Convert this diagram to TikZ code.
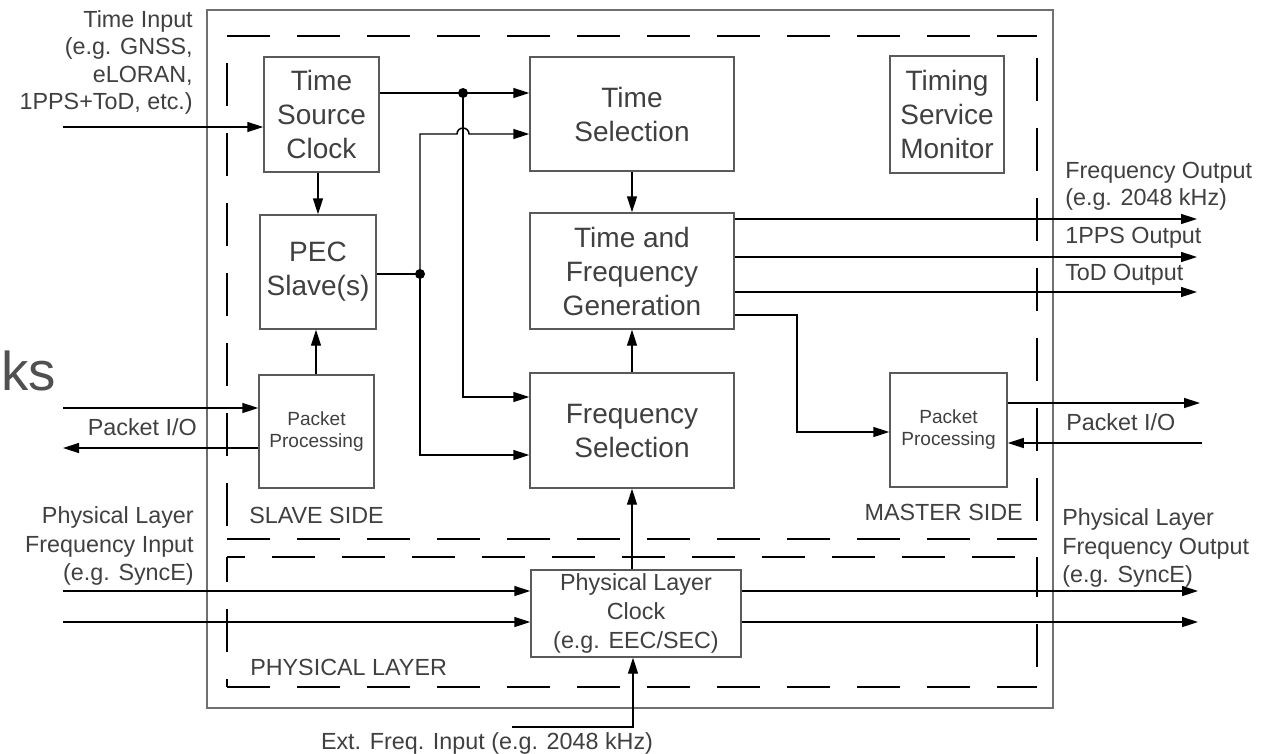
\documentclass[tikz,border=0pt]{standalone}
\usepackage{fontspec}
\setmainfont{Liberation Sans}
\usetikzlibrary{arrows.meta}
\definecolor{txtgray}{HTML}{404040}
\definecolor{boxgray}{HTML}{5A5A5A}
\definecolor{outergray}{HTML}{707070}
\definecolor{ksgray}{HTML}{505050}
\tikzset{
 blk/.style={draw=boxgray, line width=1.1pt, fill=white, inner sep=0pt, align=center, text=txtgray, font=\fontsize{21}{25.5}\selectfont},
 sblk/.style={blk, font=\fontsize{14.3}{16.5}\selectfont},
 mblk/.style={blk, font=\fontsize{17.5}{22}\selectfont},
 lbl/.style={inner sep=0pt, text=txtgray, font=\fontsize{17.5}{20.5}\selectfont},
 arr/.style={draw=black, line width=1.1pt, -{Triangle[length=12pt,width=7.5pt]}},
 ln/.style={draw=black, line width=1.1pt},
 dsh/.style={draw=black, line width=1.6pt, dash pattern=on 32.25pt off 20.25pt},
 jdot/.style={circle, fill=black, inner sep=0pt, minimum size=7.5pt}
}
\begin{document}
\begin{tikzpicture}[x=0.75pt,y=-0.75pt]
\useasboundingbox (0,0) rectangle (1262,753);
\fill[white] (0,0) rectangle (1262,753);

% outer frame
\draw[draw=outergray, line width=1.4pt] (207,10) rectangle (1053,708);

% upper dashed region
\draw[dsh] (227,36) -- (1037,36);
\draw[dsh, dash phase=32.25pt] (227,36) -- (227,539);
\draw[dsh, dash phase=36pt] (1037,36) -- (1037,539);
\draw[dsh] (227,539) -- (1037,539);
% physical layer dashed region
\draw[dsh, dash phase=18.75pt] (227,557) -- (1037,557);
\draw[dsh, dash phase=13.5pt] (227,557) -- (227,687);
\draw[dsh, dash phase=2.25pt] (1037,557) -- (1037,687);
\draw[dsh] (227,687) -- (1037,687);

% blocks
\node[blk, minimum width=86.25pt, minimum height=86.25pt] (tsc) at (321.5,114.5) {Time\\Source\\Clock};
\node[blk, minimum width=87pt, minimum height=85.5pt] (pec) at (318,272) {PEC\\Slave(s)};
\node[sblk, minimum width=86.25pt, minimum height=84.75pt] (spp) at (316.5,431.5) {Packet\\Processing};
\node[blk, minimum width=153pt, minimum height=85.5pt] (tsel) at (632,114) {Time\\Selection};
\node[blk, minimum width=153pt, minimum height=87pt] (tfg) at (632,271) {Time and\\Frequency\\Generation};
\node[blk, minimum width=153pt, minimum height=86.25pt] (fsel) at (632,430.5) {Frequency\\Selection};
\node[blk, minimum width=85.5pt, minimum height=87.75pt] (tsm) at (947,114.5) {Timing\\Service\\Monitor};
\node[sblk, minimum width=87.75pt, minimum height=85.5pt] (mpp) at (948.5,430) {Packet\\Processing};
\node[mblk, minimum width=157.5pt, minimum height=65.25pt] (plc) at (636,613.5) {Physical Layer\\Clock\\(e.g. EEC/SEC)};

% labels
\node[lbl, anchor=east, align=right] (tin) at (193,62.5) {Time Input\\(e.g. GNSS,\\eLORAN,\\1PPS+ToD, etc.)};
\node[lbl, anchor=east] (pio1) at (197,427) {Packet I/O};
\node[lbl, anchor=west] (slv) at (249,515) {SLAVE SIDE};
\node[lbl, anchor=east] (mst) at (1023,512) {MASTER SIDE};
\node[lbl, anchor=west] (pio2) at (1066,422) {Packet I/O};
\node[lbl, anchor=east, align=right, font=\fontsize{17.5}{21.5}\selectfont] (pin) at (194,546) {Physical Layer\\Frequency Input\\(e.g. SyncE)};
\node[lbl, anchor=west, align=left, font=\fontsize{17.5}{21.5}\selectfont] (pout) at (1062,548) {Physical Layer\\Frequency Output\\(e.g. SyncE)};
\node[lbl, anchor=west, align=left] (fout) at (1065,186.5) {Frequency Output\\(e.g. 2048 kHz)};
\node[lbl, anchor=west] (ppso) at (1065,238) {1PPS Output};
\node[lbl, anchor=west] (todo) at (1065,275) {ToD Output};
\node[lbl, anchor=west] (phl) at (250,667) {PHYSICAL LAYER};
\node[lbl] (ext) at (487,743) {Ext. Freq. Input (e.g. 2048 kHz)};
\node[anchor=base west, inner sep=0pt, text=ksgray, font=\fontsize{41}{41}\selectfont] (ks) at (1,390) {ks};

% coordinates
\coordinate (ti) at (63,127);
\coordinate (j1) at (463,93);
\coordinate (f1) at (463,397);
\coordinate (j2) at (420,274);
\coordinate (t2) at (420,134);
\coordinate (f2) at (420,455);
\coordinate (ax1) at (318,0);
\coordinate (ax2) at (316,0);
\coordinate (ax3) at (632,0);
\coordinate (o1) at (1197,219);
\coordinate (o2) at (1197,257);
\coordinate (o3) at (1197,292);
\coordinate (g1) at (797,315);
\coordinate (g2) at (797,432);
\coordinate (mo) at (1200,403);
\coordinate (mi) at (1202,443);
\coordinate (si) at (63,408);
\coordinate (so) at (63,448);
\coordinate (pi1) at (63,591);
\coordinate (pi2) at (63,622);
\coordinate (po1) at (1198,591);
\coordinate (po2) at (1198,622);
\coordinate (e1) at (512,727);
\coordinate (e2) at (633,727);

% connectors
\draw[arr] (ti) -- (ti -| tsc.west);
\draw[arr] (tsc.east |- j1) -- (j1 -| tsel.west);
\draw[arr] (j1) -- (f1) -- (f1 -| fsel.west);
\draw[ln] (pec.east |- j2) -- (j2);
\draw[arr] (j2) -- (t2) -- (457,134) arc[start angle=180, end angle=360, radius=6] -- (t2 -| tsel.west);
\draw[arr] (j2) -- (f2) -- (f2 -| fsel.west);
\node[jdot] (d1) at (j1) {};
\node[jdot] (d2) at (j2) {};
\draw[arr] (ax1 |- tsc.south) -- (ax1 |- pec.north);
\draw[arr] (ax2 |- spp.north) -- (ax2 |- pec.south);
\draw[arr] (ax3 |- tsel.south) -- (ax3 |- tfg.north);
\draw[arr] (ax3 |- fsel.north) -- (ax3 |- tfg.south);
\draw[arr] (ax3 |- plc.north) -- (ax3 |- fsel.south);
\draw[arr] (e1) -- (e2) -- (e2 |- plc.south);
\draw[arr] (tfg.east |- o1) -- (o1);
\draw[arr] (tfg.east |- o2) -- (o2);
\draw[arr] (tfg.east |- o3) -- (o3);
\draw[arr] (tfg.east |- g1) -- (g1) -- (g2) -- (g2 -| mpp.west);
\draw[arr] (mpp.east |- mo) -- (mo);
\draw[arr] (mi) -- (mi -| mpp.east);
\draw[arr] (si) -- (si -| spp.west);
\draw[arr] (spp.west |- so) -- (so);
\draw[arr] (pi1) -- (pi1 -| plc.west);
\draw[arr] (pi2) -- (pi2 -| plc.west);
\draw[arr] (plc.east |- po1) -- (po1);
\draw[arr] (plc.east |- po2) -- (po2);
\end{tikzpicture}
\end{document}
